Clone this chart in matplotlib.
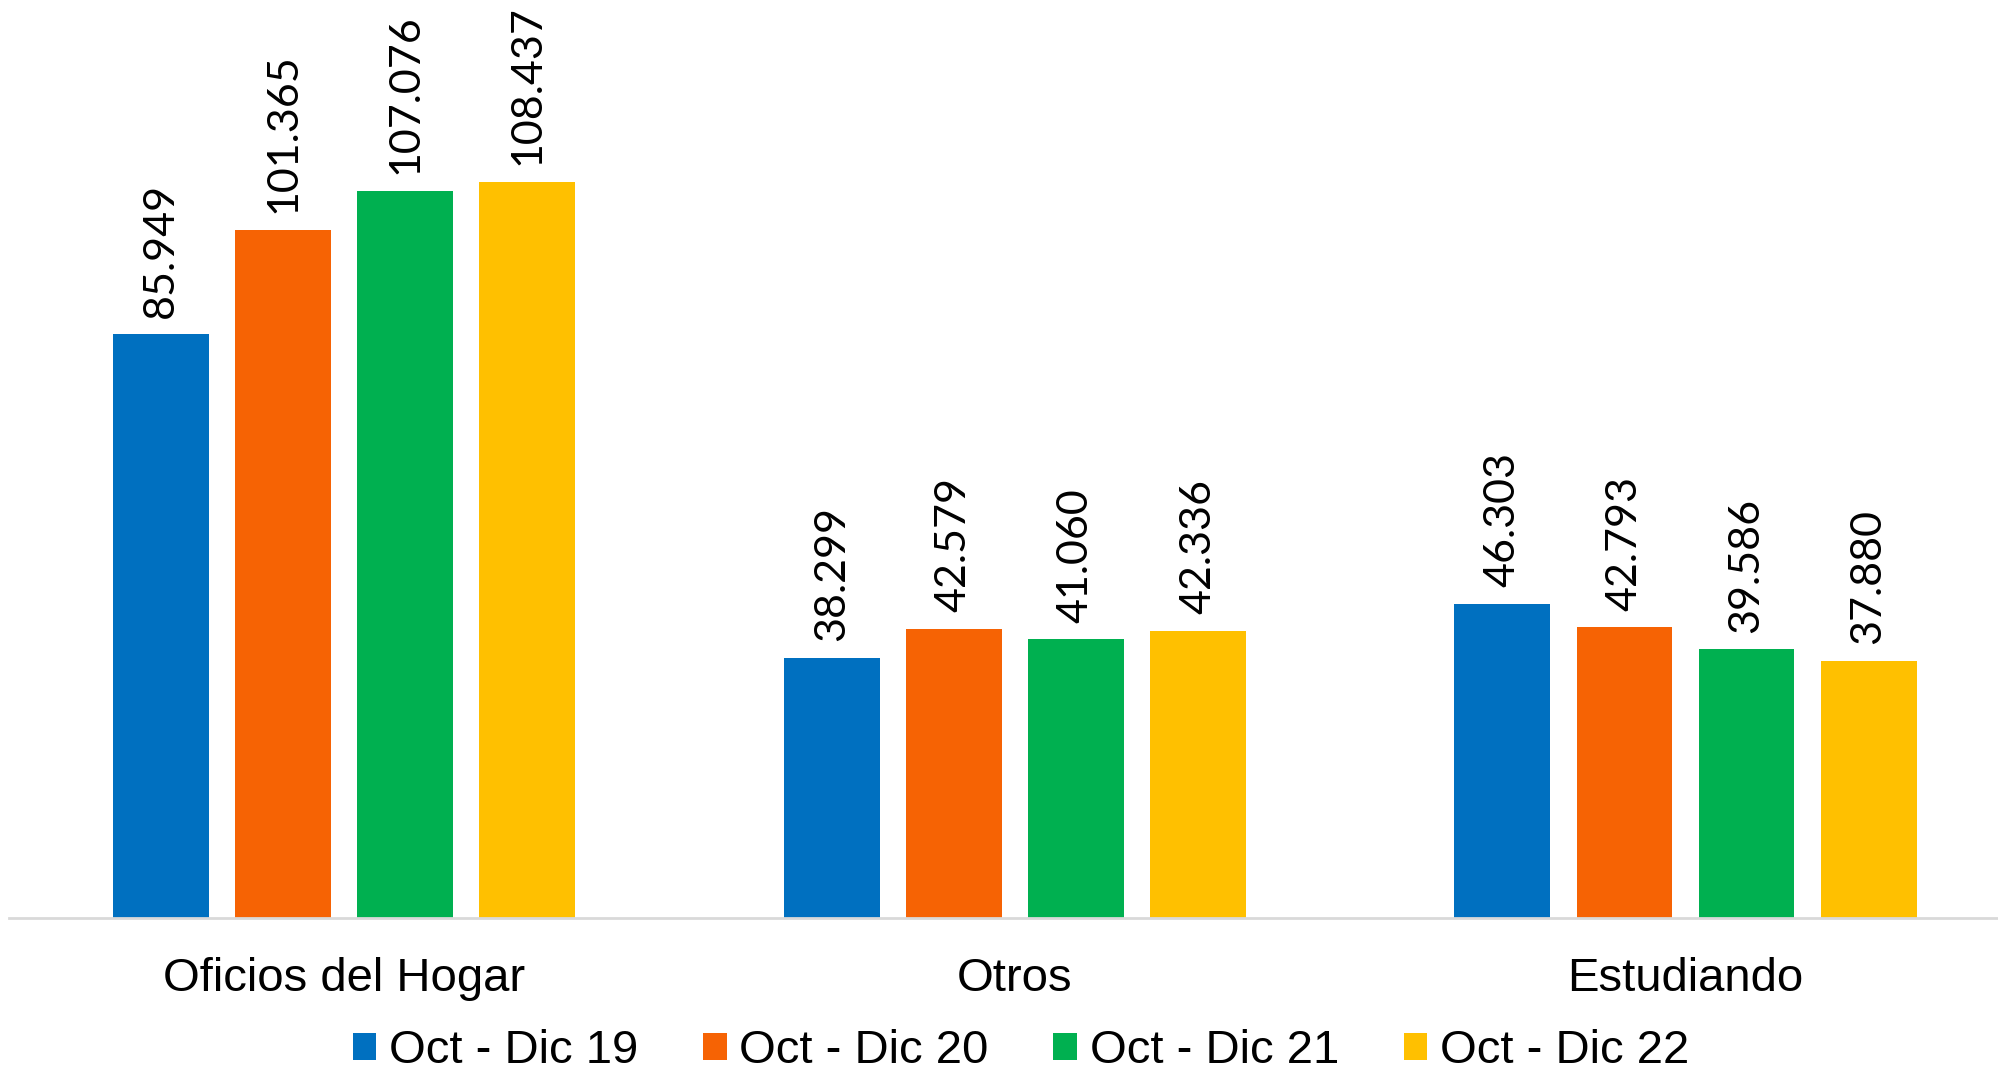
import numpy as np
import matplotlib
matplotlib.use("Agg")
import matplotlib.pyplot as plt

categorias = ["Oficios del Hogar", "Otros", "Estudiando"]
periodos = ["Oct - Dic 19", "Oct - Dic 20", "Oct - Dic 21", "Oct - Dic 22"]
oct_dic_19 = [85.949, 38.299, 46.303]
oct_dic_20 = [101.365, 42.579, 42.793]
oct_dic_21 = [107.076, 41.060, 39.586]
oct_dic_22 = [108.437, 42.336, 37.880]
series = [oct_dic_19, oct_dic_20, oct_dic_21, oct_dic_22]
colores = ["#0070C0", "#F66304", "#00B050", "#FFC000"]

fig = plt.figure(figsize=(19.98, 10.73), dpi=100)
ax = fig.add_axes([0.0045, 0.1445, 0.9955, 0.8555])

x = np.arange(len(categorias))
paso = 0.182
ancho = 0.143

for i, (vals, color, nombre) in enumerate(zip(series, colores, periodos)):
    pos = x + (i - 1.5) * paso
    ax.bar(pos, vals, width=ancho, color=color, label=nombre)
    for xp, v in zip(pos, vals):
        ax.annotate(f"{v:.3f}", (xp, v), xytext=(0, 12), textcoords="offset points",
                    rotation=90, ha="center", va="bottom",
                    fontsize=31, family="Lato", color="black")

ax.set_xlim(-0.5, 2.466)
ax.set_ylim(0, 135.2)
ax.set_yticks([])
for s in ["top", "right", "left"]:
    ax.spines[s].set_visible(False)
ax.spines["bottom"].set_color("#D9D9D9")
ax.spines["bottom"].set_linewidth(2)

ax.set_xticks(x)
ax.set_xticklabels(categorias, fontsize=34, family="Liberation Sans")
ax.tick_params(axis="x", length=0, pad=28)

fig.legend(loc="center", bbox_to_anchor=(0.511, 1 - 1051 / 1073), ncol=4,
           frameon=False, prop={"family": "Liberation Sans", "size": 34},
           handlelength=0.5, handleheight=0.5, handletextpad=0.27,
           columnspacing=1.37, borderaxespad=0, borderpad=0)

plt.savefig("out.png", dpi=100)
